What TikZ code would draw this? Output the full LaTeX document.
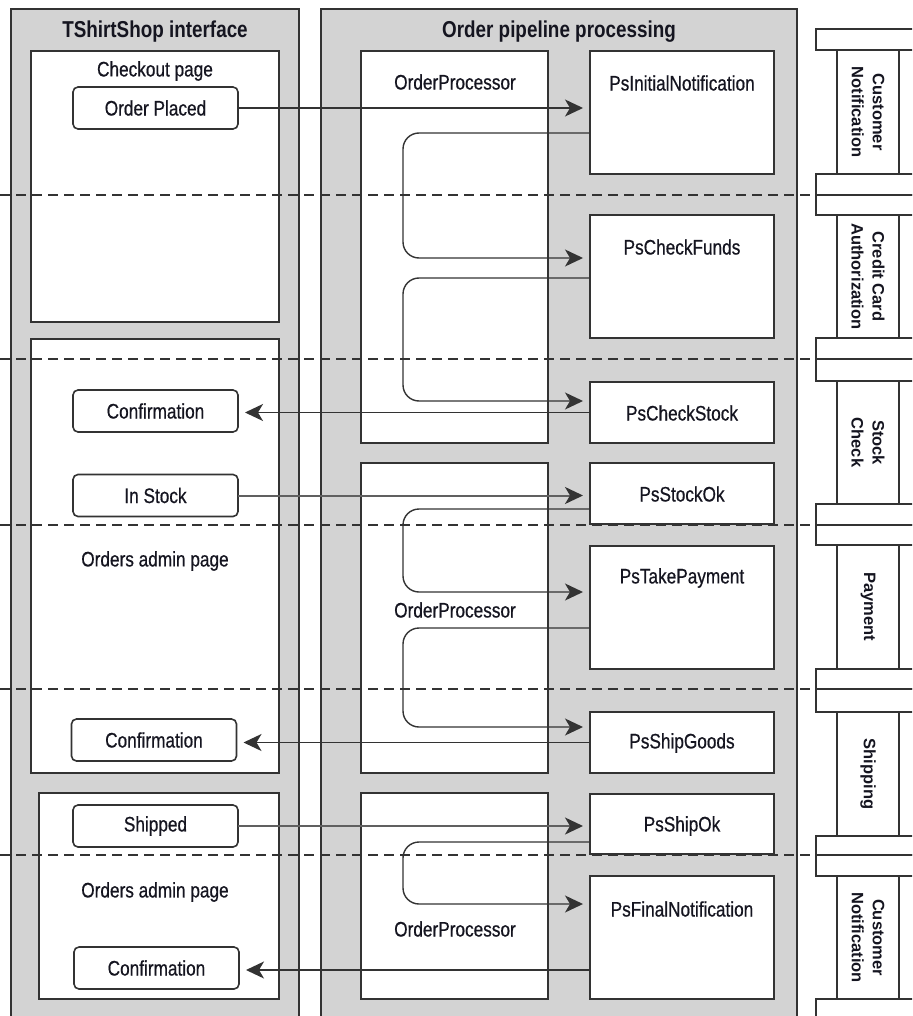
\documentclass[tikz,border=0pt]{standalone}
\usepackage{fontspec}
\setmainfont{Liberation Sans}[FakeStretch=0.82]
\newfontfamily\lblfont{Liberation Sans}[FakeStretch=0.82,FakeBold=0.6]
\newfontfamily\colfont{Liberation Sans}
\usetikzlibrary{arrows.meta,calc}
\definecolor{panelgray}{HTML}{D3D3D3}
\definecolor{linec}{HTML}{333333}
\definecolor{txtc}{HTML}{151520}
\begin{document}
\begin{tikzpicture}[x=1pt,y=-1pt,
  every node/.style={inner sep=0pt,outer sep=0pt,text=txtc},
  panel/.style={draw=linec,fill=panelgray,line width=1.6pt,anchor=north west},
  wbox/.style={draw=linec,fill=white,line width=1.6pt,anchor=north west},
  rbox/.style={draw=linec,fill=white,line width=1.6pt,rounded corners=5pt,minimum width=165pt,minimum height=42pt},
  barbox/.style={draw=linec,fill=white,line width=1.4pt,anchor=north west,minimum width=110pt},
  strip/.style={draw=linec,fill=white,line width=1.4pt,anchor=north west,minimum width=62pt},
  lbl/.style={font=\lblfont\fontsize{21}{24}\selectfont},
  ttl/.style={font=\bfseries\fontsize{23}{26}\selectfont},
  collbl/.style={font=\colfont\bfseries\fontsize{16.5}{21}\selectfont,rotate=-90,align=center},
  dashln/.style={draw=linec,line width=1.3pt,dash pattern=on 10pt off 6pt},
  arr/.style={draw=linec,line width=1.4pt,-{Stealth[length=18pt,width=17pt,inset=5pt,color=linec]},shorten >=7pt},
  arrg/.style={arr,draw=gray!75!black,line width=2pt},
  loop/.style={arr,rounded corners=16pt}]
\clip (0,0) rectangle (912,1016);
\fill[white] (0,0) rectangle (912,1016);
% panels
\node[panel,minimum width=288pt,minimum height=1030pt] (lp) at (11,9) {};
\node[panel,minimum width=476pt,minimum height=1030pt] (mp) at (321,9) {};
\node[ttl] (t1) at (155,32) {TShirtShop interface};
\node[ttl] (t2) at (559,32) {Order pipeline processing};
% left boxes
\node[wbox,minimum width=248pt,minimum height=271pt] (chk) at (31,51) {};
\node[wbox,minimum width=248pt,minimum height=434pt] (adm1) at (31,339) {};
\node[wbox,minimum width=240pt,minimum height=206pt] (adm2) at (39,793) {};
\node[lbl] (chkt) at (155,71) {Checkout page};
\node[lbl] (adm1t) at (155,561) {Orders admin page};
\node[lbl] (adm2t) at (155,892) {Orders admin page};
\node[rbox,lbl] (op) at (155.5,108) {Order Placed};
\node[rbox,lbl] (conf1) at (155.5,411) {Confirmation};
\node[rbox,lbl] (instock) at (155.5,495.5) {In Stock};
\node[rbox,lbl] (conf2) at (154,740) {Confirmation};
\node[rbox,lbl] (shipped) at (155.5,826) {Shipped};
\node[rbox,lbl] (conf3) at (156.5,968) {Confirmation};
% order processors
\node[wbox,minimum width=187pt,minimum height=392pt] (opr1) at (361,51) {};
\node[wbox,minimum width=187pt,minimum height=310pt] (opr2) at (361,463) {};
\node[wbox,minimum width=187pt,minimum height=206pt] (opr3) at (361,793) {};
\node[lbl] (opr1t) at (455,82) {OrderProcessor};
\node[lbl] (opr2t) at (455,610) {OrderProcessor};
\node[lbl] (opr3t) at (455,929) {OrderProcessor};
% pipeline stages
\node[wbox,minimum width=184pt,minimum height=123pt] (psinit) at (590,51) {};
\node[wbox,minimum width=184pt,minimum height=123pt] (psfunds) at (590,215) {};
\node[wbox,minimum width=184pt,minimum height=61pt] (pscheck) at (590,382) {};
\node[wbox,minimum width=184pt,minimum height=61pt] (psstockok) at (590,463) {};
\node[wbox,minimum width=184pt,minimum height=123pt] (pstake) at (590,546) {};
\node[wbox,minimum width=184pt,minimum height=61pt] (psship) at (590,712) {};
\node[wbox,minimum width=184pt,minimum height=60pt] (psshipok) at (590,794) {};
\node[wbox,minimum width=184pt,minimum height=123pt] (psfinal) at (590,876) {};
\node[lbl] (psinitt) at (682,83) {PsInitialNotification};
\node[lbl] (psfundst) at (682,247) {PsCheckFunds};
\node[lbl] (pscheckt) at (682,413) {PsCheckStock};
\node[lbl] (psstockokt) at (682,494) {PsStockOk};
\node[lbl] (pstaket) at (682,578) {PsTakePayment};
\node[lbl] (psshipt) at (682,743) {PsShipGoods};
\node[lbl] (psshipokt) at (682,826) {PsShipOk};
\node[lbl] (psfinalt) at (682,909) {PsFinalNotification};
% dashed separators
\foreach \yy in {195,359,525,689,855}
  \draw[dashln] (0,\yy) -- (912,\yy);
% right column strips
\node[strip,minimum height=124pt] (c1) at (837,50) {};
\node[strip,minimum height=123pt] (c2) at (837,215) {};
\node[strip,minimum height=123pt] (c3) at (837,381) {};
\node[strip,minimum height=124pt] (c4) at (837,545) {};
\node[strip,minimum height=124pt] (c5) at (837,712) {};
\node[strip,minimum height=123pt] (c6) at (837,876) {};
% bars
\node[barbox,minimum height=21pt] (b0) at (816,29) {};
\node[barbox,minimum height=21pt] (b1a) at (816,174) {};
\node[barbox,minimum height=20pt] (b1b) at (816,195) {};
\node[barbox,minimum height=21pt] (b2a) at (816,338) {};
\node[barbox,minimum height=22pt] (b2b) at (816,359) {};
\node[barbox,minimum height=21pt] (b3a) at (816,504) {};
\node[barbox,minimum height=20pt] (b3b) at (816,525) {};
\node[barbox,minimum height=20pt] (b4a) at (816,669) {};
\node[barbox,minimum height=23pt] (b4b) at (816,689) {};
\node[barbox,minimum height=19pt] (b5a) at (816,836) {};
\node[barbox,minimum height=21pt] (b5b) at (816,855) {};
\node[barbox,minimum height=40pt] (b6) at (816,999) {};
\node[collbl] (c1t) at (c1.center) {Customer\\Notification};
\node[collbl] (c2t) at (c2.center) {Credit Card\\Authorization};
\node[collbl] (c3t) at (c3.center) {Stock\\Check};
\node[collbl] (c4t) at (c4.center) {Payment};
\node[collbl] (c5t) at (c5.center) {Shipping};
\node[collbl] (c6t) at (c6.center) {Customer\\Notification};
% connectors
\draw[arr] (op.east) -- (op.east -| psinit.west);
\draw[loop] ([yshift=-20.5pt]psinit.west) -- (403,133) -- (403,258) -- ([yshift=18.5pt]psfunds.west);
\draw[loop] ([yshift=-1.5pt]psfunds.west) -- (403,278) -- (403,401) -- ([yshift=11.5pt]pscheck.west);
\draw[arr] (pscheck.west) -- (pscheck.west -| conf1.east);
\draw[arrg] (instock.east) -- (instock.east -| psstockok.west);
\draw[loop] ([yshift=-15.5pt]psstockok.west) -- (403,509) -- (403,592) -- ([yshift=15.5pt]pstake.west);
\draw[loop] ([yshift=-20.5pt]pstake.west) -- (403,628) -- (403,727) -- ([yshift=15.5pt]psship.west);
\draw[arr] (psship.west) -- (psship.west -| conf2.east);
\draw[arrg] (shipped.east) -- (shipped.east -| psshipok.west);
\draw[loop] ([yshift=-18pt]psshipok.west) -- (403,842) -- (403,904) -- ([yshift=33.5pt]psfinal.west);
\draw[arr] ([yshift=-32.5pt]psfinal.west) -- ([yshift=-32.5pt]psfinal.west -| conf3.east);
\end{tikzpicture}
\end{document}
